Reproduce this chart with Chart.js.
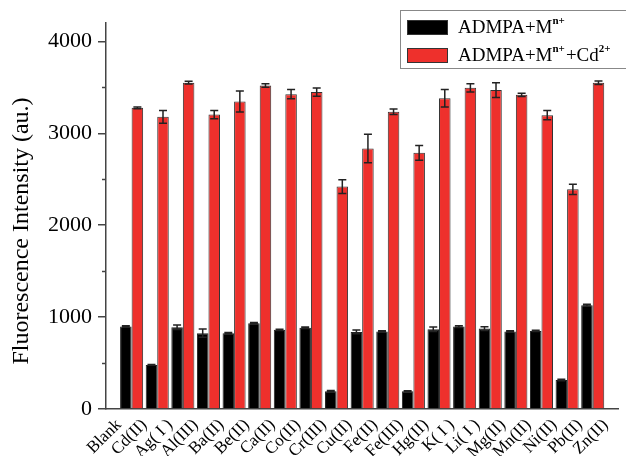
<!DOCTYPE html>
<html lang="en">
<head>
    <meta charset="UTF-8">
    <script src="https://cdn.jsdelivr.net/npm/chart.js"></script>
    <title>Fluorescence Intensity</title>
    <style>
        body { margin: 0; background: #fff; }
        #wrap { width: 626px; height: 456px; }
    </style>
</head>
<body>
    <div id="wrap"><canvas id="fluoChart"></canvas></div>
    <script>
        // x-axis tick labels
        const categories = ['Blank', 'Cd(II)', 'Ag( I )', 'Al(III)', 'Ba(II)', 'Be(II)', 'Ca(II)', 'Co(II)', 'Cr(III)', 'Cu(II)',
            'Fe(II)', 'Fe(III)', 'Hg(II)', 'K( I )', 'Li( I )', 'Mg(II)', 'Mn(II)', 'Ni(II)', 'Pb(II)', 'Zn(II)'];

        // the 19 bar groups (they sit between the tick labels in the original)
        const metalOnly = [897, 480, 890, 825, 825, 934, 861, 883, 193, 839, 843, 193, 868, 897, 875, 843, 850, 316, 1130];
        const metalOnlyErr = [8, 5, 25, 45, 8, 8, 8, 8, 8, 20, 8, 5, 25, 10, 20, 8, 8, 8, 10];
        const withCd = [3277, 3179, 3550, 3204, 3346, 3520, 3426, 3448, 2420, 2834, 3234, 2787, 3382, 3495, 3470, 3418, 3197, 2390, 3550];
        const withCdErr = [10, 70, 15, 45, 115, 20, 50, 45, 75, 155, 30, 80, 95, 45, 80, 18, 50, 55, 20];

        const yTicks = [0, 1000, 2000, 3000, 4000];
        const yMinorTicks = [500, 1500, 2500, 3500];

        const serif = "'Liberation Serif', 'Times New Roman', serif";

        // pad with an empty slot on each side so the groups land between labels
        const pad = arr => [null, ...arr, null];
        const slots = pad(metalOnly.map((_, i) => 'g' + i));

        const errorBars = {
            id: 'errorBars',
            afterDatasetsDraw(chart) {
                const ctx = chart.ctx;
                const y = chart.scales.y;
                ctx.save();
                ctx.strokeStyle = '#222';
                ctx.lineWidth = 1.5;
                chart.data.datasets.forEach((ds, di) => {
                    const meta = chart.getDatasetMeta(di);
                    meta.data.forEach((bar, i) => {
                        const v = ds.data[i], e = ds.errors[i];
                        if (v == null || !e) return;
                        const top = y.getPixelForValue(v + e);
                        const bot = y.getPixelForValue(v - e);
                        ctx.beginPath();
                        ctx.moveTo(bar.x, top); ctx.lineTo(bar.x, bot);
                        ctx.moveTo(bar.x - 4, top); ctx.lineTo(bar.x + 4, top);
                        ctx.moveTo(bar.x - 4, bot); ctx.lineTo(bar.x + 4, bot);
                        ctx.stroke();
                    });
                });
                ctx.restore();
            }
        };

        function drawRich(ctx, parts, x, y) {
            parts.forEach(p => {
                ctx.font = p.sup ? 'bold 11px ' + serif : '19px ' + serif;
                ctx.fillText(p.t, x, p.sup ? y - 7 : y);
                x += ctx.measureText(p.t).width + (p.sup ? 1 : 0);
            });
        }

        const extras = {
            id: 'extras',
            afterDraw(chart) {
                const ctx = chart.ctx;
                const y = chart.scales.y;
                ctx.save();
                // minor ticks on the y axis
                ctx.strokeStyle = '#444';
                ctx.lineWidth = 1.5;
                yMinorTicks.forEach(v => {
                    const py = Math.round(y.getPixelForValue(v)) + 0.5;
                    ctx.beginPath();
                    ctx.moveTo(y.right - 4, py); ctx.lineTo(y.right, py);
                    ctx.stroke();
                });
                // y title, sits a bit below the axis middle like the original
                ctx.save();
                ctx.translate(22, 231);
                ctx.rotate(-Math.PI / 2);
                ctx.fillStyle = '#000';
                ctx.font = '24px ' + serif;
                ctx.textAlign = 'center';
                ctx.textBaseline = 'middle';
                ctx.fillText('Fluorescence Intensity (au.)', 0, 0);
                ctx.restore();
                // legend box
                ctx.fillStyle = '#fff';
                ctx.fillRect(400, 10, 230, 58);
                ctx.strokeStyle = '#888';
                ctx.lineWidth = 1;
                ctx.strokeRect(400.5, 10.5, 230, 58);
                const items = [
                    { color: '#000', parts: [{ t: 'ADMPA+M' }, { t: 'n+', sup: true }] },
                    { color: '#ee302c', parts: [{ t: 'ADMPA+M' }, { t: 'n+', sup: true }, { t: '+Cd' }, { t: '2+', sup: true }] }
                ];
                items.forEach((it, k) => {
                    const cy = 27.5 + k * 28;
                    ctx.fillStyle = it.color;
                    ctx.fillRect(407, cy - 7.5, 41, 15);
                    ctx.strokeStyle = '#333';
                    ctx.strokeRect(407.5, cy - 7, 40, 14);
                    ctx.fillStyle = '#000';
                    ctx.textBaseline = 'middle';
                    drawRich(ctx, it.parts, 458, cy + 1);
                });
                ctx.restore();
            }
        };

        const ctx = document.getElementById('fluoChart').getContext('2d');
        new Chart(ctx, {
            type: 'bar',
            data: {
                labels: slots,
                datasets: [{
                    label: 'ADMPA+Mn+',
                    data: pad(metalOnly),
                    errors: pad(metalOnlyErr),
                    xAxisID: 'xb',
                    backgroundColor: '#000',
                    borderColor: '#222',
                    borderWidth: 1
                }, {
                    label: 'ADMPA+Mn++Cd2+',
                    data: pad(withCd),
                    errors: pad(withCdErr),
                    xAxisID: 'xb',
                    backgroundColor: '#ee302c',
                    borderColor: '#333',
                    borderWidth: 1
                }]
            },
            options: {
                responsive: true,
                maintainAspectRatio: false,
                animation: false,
                layout: { padding: { top: 23, right: 2, left: 0, bottom: 0 } },
                datasets: { bar: { categoryPercentage: 0.9, barPercentage: 1 } },
                scales: {
                    x: {
                        type: 'category',
                        axis: 'x',
                        position: 'bottom',
                        labels: categories,
                        offset: true,
                        grid: { display: false, drawTicks: false },
                        border: { color: '#444', width: 1.5 },
                        ticks: {
                            autoSkip: false,
                            minRotation: 45,
                            maxRotation: 45,
                            padding: 6,
                            color: '#000',
                            font: { family: serif, size: 17 }
                        },
                        afterFit: s => { s.height = 47; }
                    },
                    xb: {
                        type: 'category',
                        axis: 'x',
                        position: 'bottom',
                        display: false,
                        offset: false
                    },
                    y: {
                        min: 0,
                        max: 4200,
                        border: { color: '#444', width: 1.5 },
                        grid: { drawOnChartArea: false, tickLength: 8, color: '#444', lineWidth: 1.5 },
                        afterBuildTicks: s => { s.ticks = yTicks.map(v => ({ value: v })); },
                        ticks: {
                            padding: 6,
                            color: '#000',
                            font: { family: serif, size: 22 },
                            callback: v => String(v)
                        },
                        afterFit: s => { s.width = 106; }
                    }
                },
                plugins: {
                    legend: { display: false },
                    tooltip: { enabled: false }
                }
            },
            plugins: [errorBars, extras]
        });
    </script>
</body>
</html>
